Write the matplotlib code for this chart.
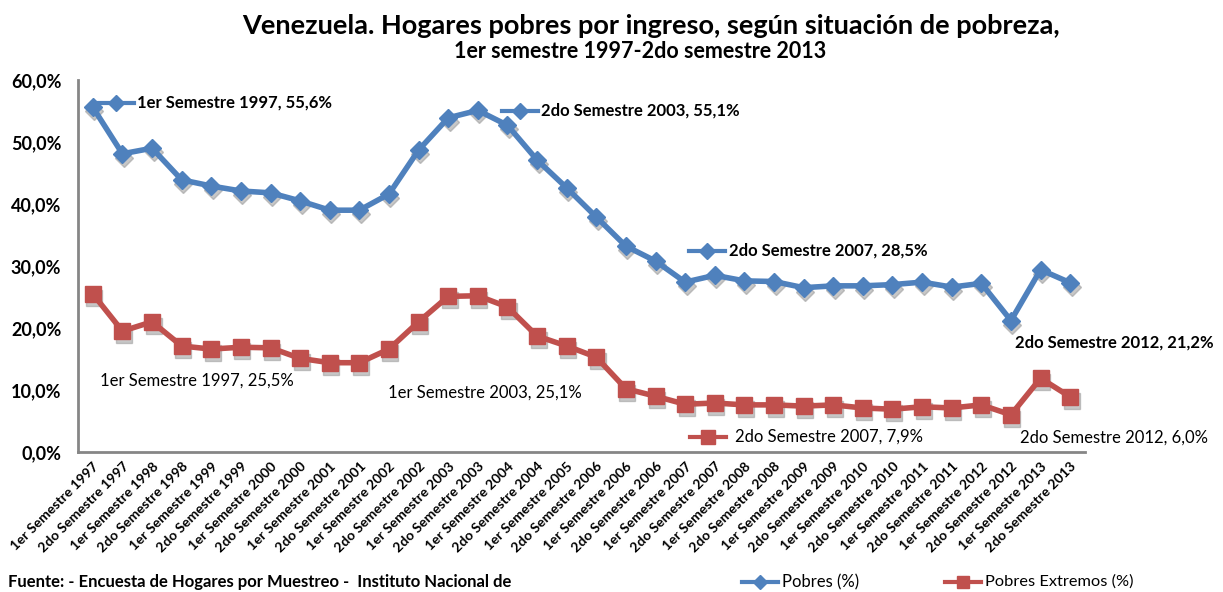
import matplotlib
matplotlib.use("Agg")
import matplotlib.pyplot as plt
import matplotlib.transforms as mtransforms
from matplotlib.lines import Line2D

categories = [
    "1er Semestre 1997", "2do Semestre 1997", "1er Semestre 1998", "2do Semestre 1998",
    "1er Semestre 1999", "2do Semestre 1999", "1er Semestre 2000", "2do Semestre 2000",
    "1er Semestre 2001", "2do Semestre 2001", "1er Semestre 2002", "2do Semestre 2002",
    "1er Semestre 2003", "2do Semestre 2003", "1er Semestre 2004", "2do Semestre 2004",
    "1er Semestre 2005", "2do Semestre 2006", "1er Semestre 2006", "2do Semestre 2006",
    "1er Semestre 2007", "2do Semestre 2007", "1er Semestre 2008", "2do Semestre 2008",
    "1er Semestre 2009", "2do Semestre 2009", "1er Semestre 2010", "2do Semestre 2010",
    "1er Semestre 2011", "2do Semestre 2011", "1er Semestre 2012", "2do Semestre 2012",
    "1er Semestre 2013", "2do Semestre 2013",
]
pobres = [55.6, 48.1, 49.0, 43.9, 42.9, 42.1, 41.8, 40.5, 39.0, 39.0, 41.6, 48.7,
          53.9, 55.1, 52.7, 47.1, 42.6, 37.9, 33.2, 30.8, 27.4, 28.5, 27.6, 27.5,
          26.5, 26.8, 26.8, 27.0, 27.4, 26.6, 27.2, 21.2, 29.4, 27.3]
extremos = [25.5, 19.5, 21.0, 17.1, 16.6, 16.9, 16.8, 15.1, 14.4, 14.4, 16.6, 21.0,
            25.1, 25.2, 23.4, 18.7, 17.1, 15.3, 10.2, 9.0, 7.7, 7.9, 7.6, 7.6,
            7.4, 7.6, 7.1, 6.9, 7.3, 7.1, 7.6, 6.0, 11.9, 8.9]
yticks = [0, 10, 20, 30, 40, 50, 60]
ytick_labels = ["0,0%", "10,0%", "20,0%", "30,0%", "40,0%", "50,0%", "60,0%"]

BLUE = "#4f81bd"
RED = "#c0504d"
FONT = ["Lato", "DejaVu Sans"]
plt.rcParams["font.family"] = FONT

fig = plt.figure(figsize=(12.23, 5.92), dpi=100)
ax = fig.add_axes([78 / 1223, 1 - 452 / 592, (1085 - 78) / 1223, (452 - 80) / 592])

x = list(range(len(categories)))
shadow = mtransforms.offset_copy(ax.transData, fig=fig, x=1.5, y=-4, units="dots")
ax.plot(x, pobres, color="#9a9a9a", lw=0, marker="D", ms=9, alpha=0.55,
        transform=shadow, zorder=1)
ax.plot(x, extremos, color="#9a9a9a", lw=0, marker="s", ms=12, alpha=0.55,
        transform=shadow, zorder=1)
ax.plot(x, pobres, color=BLUE, lw=4, marker="D", ms=9, zorder=3)
ax.plot(x, extremos, color=RED, lw=4, marker="s", ms=12, zorder=3)

ax.set_xlim(-0.5, len(categories) - 0.5)
ax.set_ylim(0, 60)
ax.set_yticks(yticks)
ax.set_yticklabels(ytick_labels, fontsize=13, fontweight="bold")
ax.set_xticks(x)
ax.set_xticklabels(categories, rotation=45, ha="right", va="top",
                   rotation_mode="anchor", fontsize=10, fontweight="bold")
ax.tick_params(axis="y", length=0, pad=12)
ax.tick_params(axis="x", length=0, pad=6)
for s in ["top", "right"]:
    ax.spines[s].set_visible(False)
for s in ["left", "bottom"]:
    ax.spines[s].set_color("#868686")
    ax.spines[s].set_linewidth(2)

# annotations (pixel-based placement in figure coords)
def ftext(px, py, s, bold, size=12):
    fig.text(px / 1223, 1 - py / 592, s, fontsize=size,
             fontweight="bold" if bold else "normal", va="center", ha="left")

def fkey(px, py, color, marker, ms):
    l = Line2D([px / 1223, (px + 36) / 1223], [1 - py / 592, 1 - py / 592],
               transform=fig.transFigure, color=color, lw=3)
    m = Line2D([(px + 18) / 1223], [1 - py / 592], transform=fig.transFigure,
               color=color, marker=marker, ms=ms, lw=0)
    fig.add_artist(l)
    fig.add_artist(m)

fkey(98, 103, BLUE, "D", 8)
ftext(137, 103, "1er Semestre 1997, 55,6%", True)
fkey(502, 111, BLUE, "D", 8)
ftext(541, 111, "2do Semestre 2003, 55,1%", True)
fkey(689, 251, BLUE, "D", 8)
ftext(729, 251, "2do Semestre 2007, 28,5%", True)
ftext(1015, 343, "2do Semestre 2012, 21,2%", True)
ftext(100, 381, "1er Semestre 1997, 25,5%", False)
ftext(388, 393, "1er Semestre 2003, 25,1%", False)
fkey(690, 437, RED, "s", 10)
ftext(735, 437, "2do Semestre 2007, 7,9%", False)
ftext(1020, 438, "2do Semestre 2012, 6,0%", False)

fig.text(0.532, 1 - 26 / 592, "Venezuela. Hogares pobres por ingreso, según situación de pobreza,",
         ha="center", va="center", fontsize=19.5, fontweight="bold")
fig.text(0.523, 1 - 52 / 592, "1er semestre 1997-2do semestre 2013",
         ha="center", va="center", fontsize=15.5, fontweight="bold")
fig.text(8 / 1223, 1 - 582 / 592,
         "Fuente: - Encuesta de Hogares por Muestreo -  Instituto Nacional de",
         ha="left", va="center", fontsize=12, fontweight="bold")

fkey(742, 582, BLUE, "D", 7)
ftext(782, 582, "Pobres (%)", False, 12)
fkey(945, 582, RED, "s", 9)
ftext(985, 582, "Pobres Extremos (%)", False, 11.8)

fig.savefig("out.png", dpi=100)
